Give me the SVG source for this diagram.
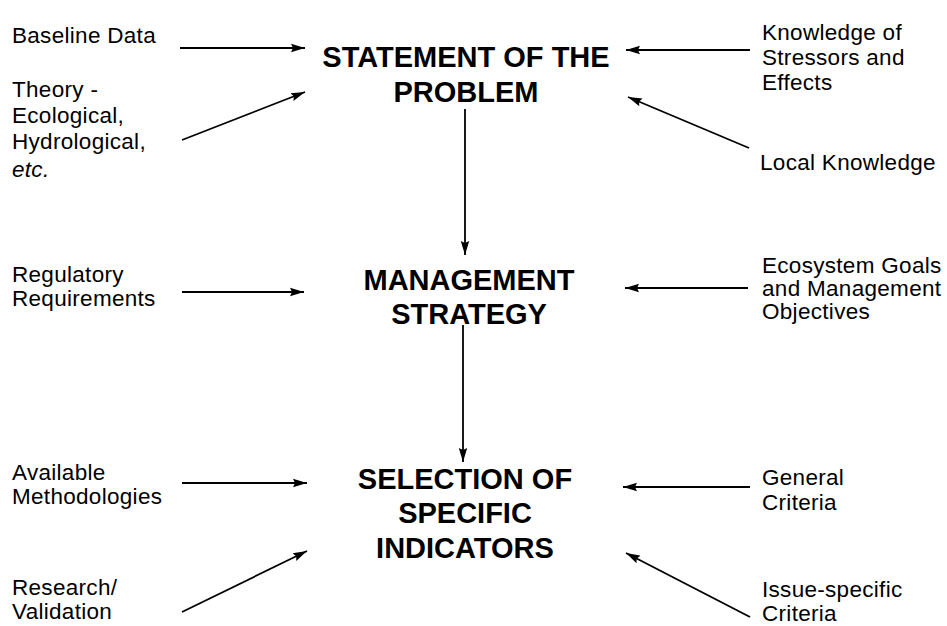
<svg xmlns="http://www.w3.org/2000/svg" width="947" height="626" viewBox="0 0 947 626">
<style>
.t{font-family:"Liberation Sans",Arial,sans-serif;font-size:22.5px;letter-spacing:0.3px;fill:#000}
.h{font-family:"Liberation Sans",Arial,sans-serif;font-size:29px;font-weight:bold;fill:#000;text-anchor:middle}
.c{stroke:#000;stroke-width:1.8;fill:none;marker-end:url(#ah)}
</style>
<defs>
<marker id="ah" markerUnits="userSpaceOnUse" markerWidth="15" markerHeight="10" refX="14" refY="5" orient="auto">
<path d="M0,0.8 L14,5 L0,9.2 L2,5 z" fill="#000"/>
</marker>
</defs>
<rect width="947" height="626" fill="#fff"/>
<g id="connectors">
<line class="c" x1="180" y1="48" x2="305" y2="48"/>
<line class="c" x1="182" y1="140" x2="305" y2="92"/>
<line class="c" x1="750" y1="50" x2="626" y2="50"/>
<line class="c" x1="749" y1="148" x2="628" y2="97"/>
<line class="c" x1="465" y1="109" x2="465" y2="255"/>
<line class="c" x1="182" y1="292" x2="304" y2="292"/>
<line class="c" x1="748" y1="288" x2="625" y2="288"/>
<line class="c" x1="463" y1="325" x2="463" y2="462"/>
<line class="c" x1="182" y1="483" x2="307" y2="483"/>
<line class="c" x1="182" y1="612" x2="307" y2="551"/>
<line class="c" x1="750" y1="487" x2="623" y2="487"/>
<line class="c" x1="750" y1="617" x2="626" y2="553"/>
</g>
<g id="statement"><text class="h" x="466" y="67">STATEMENT OF THE</text><text class="h" x="466" y="102">PROBLEM</text></g>
<g id="management"><text class="h" x="469" y="290">MANAGEMENT</text><text class="h" x="469" y="324">STRATEGY</text></g>
<g id="selection"><text class="h" x="465" y="489">SELECTION OF</text><text class="h" x="465" y="523">SPECIFIC</text><text class="h" x="465" y="558">INDICATORS</text></g>
<g id="baseline"><text class="t" x="12" y="43">Baseline Data</text></g>
<g id="theory"><text class="t" x="12" y="97">Theory -</text><text class="t" x="12" y="123">Ecological,</text><text class="t" x="12" y="149">Hydrological,</text><text class="t" x="12" y="177" font-style="italic">etc.</text></g>
<g id="stressors"><text class="t" x="762" y="40">Knowledge of</text><text class="t" x="762" y="65">Stressors and</text><text class="t" x="762" y="90">Effects</text></g>
<g id="local"><text class="t" x="760" y="170">Local Knowledge</text></g>
<g id="regulatory"><text class="t" x="12" y="282">Regulatory</text><text class="t" x="12" y="306">Requirements</text></g>
<g id="ecosystem"><text class="t" x="762" y="273">Ecosystem Goals</text><text class="t" x="762" y="296">and Management</text><text class="t" x="762" y="319">Objectives</text></g>
<g id="methodologies"><text class="t" x="12" y="480">Available</text><text class="t" x="12" y="504">Methodologies</text></g>
<g id="research"><text class="t" x="12" y="595">Research/</text><text class="t" x="12" y="619">Validation</text></g>
<g id="general"><text class="t" x="762" y="485">General</text><text class="t" x="762" y="510">Criteria</text></g>
<g id="issue"><text class="t" x="762" y="597">Issue-specific</text><text class="t" x="762" y="621">Criteria</text></g>
</svg>
